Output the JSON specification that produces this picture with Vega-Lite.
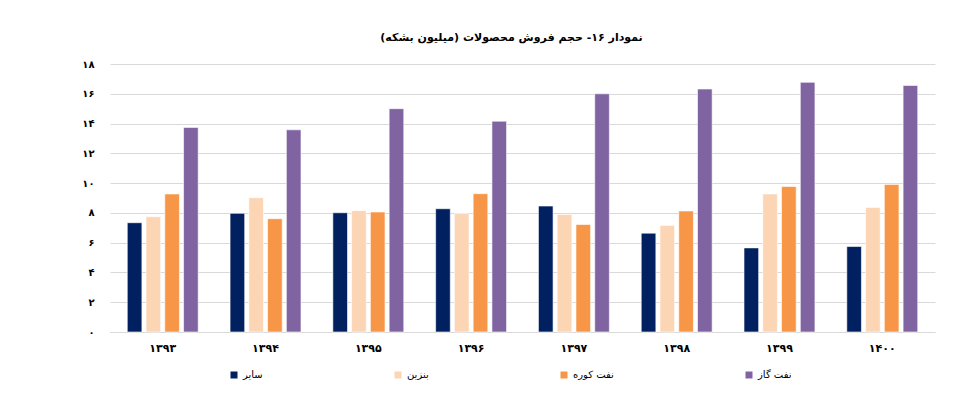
{
  "$schema": "https://vega.github.io/schema/vega-lite/v6.json",
  "autosize": {"type": "none"},
  "width": 825,
  "height": 268,
  "padding": {"left": 110, "top": 64, "right": 42, "bottom": 75},
  "background": "white",
  "title": {
    "text": "\u200Fنمودار ۱۶- حجم فروش محصولات (میلیون بشکه)\u200F",
    "font": "DejaVu Sans",
    "fontSize": 11,
    "fontWeight": "bold",
    "color": "#000000",
    "anchor": "middle",
    "dx": -11,
    "offset": 16
  },
  "data": {
    "values": [
      {"year": "۱۳۹۳", "product": "سایر", "value": 7.34},
      {"year": "۱۳۹۳", "product": "بنزین", "value": 7.74},
      {"year": "۱۳۹۳", "product": "نفت کوره", "value": 9.27},
      {"year": "۱۳۹۳", "product": "نفت گاز", "value": 13.74},
      {"year": "۱۳۹۴", "product": "سایر", "value": 7.97},
      {"year": "۱۳۹۴", "product": "بنزین", "value": 9.02},
      {"year": "۱۳۹۴", "product": "نفت کوره", "value": 7.61},
      {"year": "۱۳۹۴", "product": "نفت گاز", "value": 13.58},
      {"year": "۱۳۹۵", "product": "سایر", "value": 8.01},
      {"year": "۱۳۹۵", "product": "بنزین", "value": 8.15},
      {"year": "۱۳۹۵", "product": "نفت کوره", "value": 8.06},
      {"year": "۱۳۹۵", "product": "نفت گاز", "value": 15.0},
      {"year": "۱۳۹۶", "product": "سایر", "value": 8.28},
      {"year": "۱۳۹۶", "product": "بنزین", "value": 7.95},
      {"year": "۱۳۹۶", "product": "نفت کوره", "value": 9.29},
      {"year": "۱۳۹۶", "product": "نفت گاز", "value": 14.16},
      {"year": "۱۳۹۷", "product": "سایر", "value": 8.46},
      {"year": "۱۳۹۷", "product": "بنزین", "value": 7.9},
      {"year": "۱۳۹۷", "product": "نفت کوره", "value": 7.22},
      {"year": "۱۳۹۷", "product": "نفت گاز", "value": 16.0},
      {"year": "۱۳۹۸", "product": "سایر", "value": 6.64},
      {"year": "۱۳۹۸", "product": "بنزین", "value": 7.16},
      {"year": "۱۳۹۸", "product": "نفت کوره", "value": 8.13},
      {"year": "۱۳۹۸", "product": "نفت گاز", "value": 16.32},
      {"year": "۱۳۹۹", "product": "سایر", "value": 5.65},
      {"year": "۱۳۹۹", "product": "بنزین", "value": 9.27},
      {"year": "۱۳۹۹", "product": "نفت کوره", "value": 9.77},
      {"year": "۱۳۹۹", "product": "نفت گاز", "value": 16.77},
      {"year": "۱۴۰۰", "product": "سایر", "value": 5.74},
      {"year": "۱۴۰۰", "product": "بنزین", "value": 8.37},
      {"year": "۱۴۰۰", "product": "نفت کوره", "value": 9.91},
      {"year": "۱۴۰۰", "product": "نفت گاز", "value": 16.56}
    ]
  },
  "mark": {"type": "bar", "stroke": "white", "strokeWidth": 0.6},
  "encoding": {
    "x": {
      "field": "year",
      "type": "nominal",
      "sort": null,
      "scale": {"paddingInner": 0.31, "paddingOuter": 0.168},
      "axis": {
        "title": null,
        "labelAngle": 0,
        "ticks": false,
        "domainColor": "#D9D9D9",
        "domainWidth": 1,
        "labelFont": "DejaVu Sans",
        "labelFontSize": 11,
        "labelFontWeight": "bold",
        "labelColor": "#000000",
        "labelPadding": 10
      }
    },
    "xOffset": {
      "field": "product",
      "type": "nominal",
      "sort": ["سایر", "بنزین", "نفت کوره", "نفت گاز"],
      "scale": {"paddingInner": 0.22, "paddingOuter": 0}
    },
    "y": {
      "field": "value",
      "type": "quantitative",
      "scale": {"domain": [0, 18], "nice": false},
      "axis": {
        "title": null,
        "values": [0, 2, 4, 6, 8, 10, 12, 14, 16, 18],
        "labelExpr": "['۰','۲','۴','۶','۸','۱۰','۱۲','۱۴','۱۶','۱۸'][datum.value/2]",
        "domain": false,
        "ticks": false,
        "gridColor": "#D9D9D9",
        "gridWidth": 1,
        "labelFont": "DejaVu Sans",
        "labelFontSize": 10,
        "labelFontWeight": "bold",
        "labelColor": "#000000",
        "labelPadding": 16
      }
    },
    "color": {
      "field": "product",
      "type": "nominal",
      "sort": ["سایر", "بنزین", "نفت کوره", "نفت گاز"],
      "scale": {
        "domain": ["سایر", "بنزین", "نفت کوره", "نفت گاز"],
        "range": ["#002060", "#FCD5B5", "#F79646", "#8064A2"]
      },
      "legend": {
        "title": null,
        "orient": "none",
        "direction": "horizontal",
        "legendX": 119,
        "legendY": 306,
        "symbolType": "square",
        "symbolSize": 49,
        "symbolStrokeWidth": 0,
        "symbolOffset": 0,
        "labelOffset": 4,
        "columnPadding": 130,
        "labelFont": "DejaVu Sans",
        "labelFontSize": 10,
        "labelColor": "#000000"
      }
    }
  },
  "config": {"view": {"stroke": null}}
}
